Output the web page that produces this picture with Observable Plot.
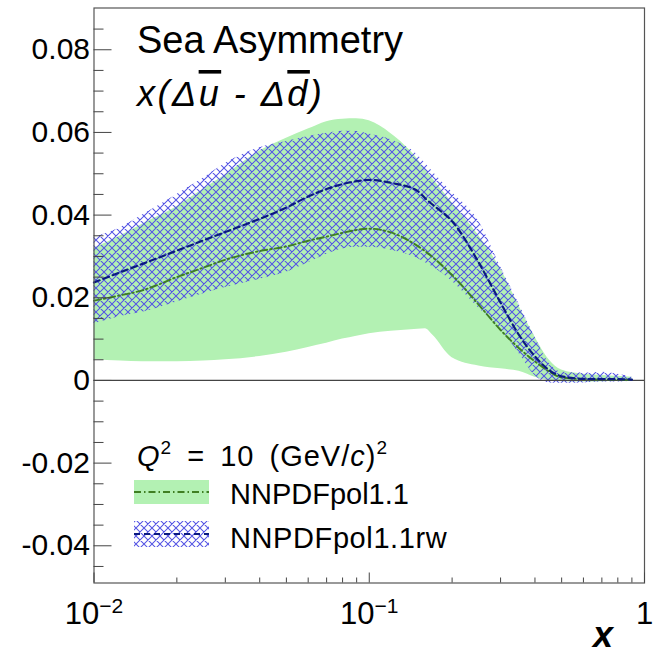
<!DOCTYPE html>
<html>
<head>
<meta charset="utf-8">
<script src="https://cdn.jsdelivr.net/npm/d3@7"></script>
<script src="https://cdn.jsdelivr.net/npm/@observablehq/plot@0.6"></script>
<style>
  html, body { margin: 0; padding: 0; background: #ffffff; }
  #chart { width: 653px; height: 658px; }
</style>
</head>
<body>
<div id="chart"></div>
<script>
// ---- data ----
const xGrid = [0.01, 0.0125, 0.015, 0.02, 0.025, 0.03, 0.04, 0.05, 0.06, 0.07, 0.08, 0.09, 0.1, 0.12, 0.15, 0.16, 0.17, 0.2, 0.25, 0.3, 0.35, 0.4, 0.45, 0.5, 0.6, 0.7, 0.8, 0.9];

// NNPDFpol1.1 (green band, dash-dot central line)
const nnpdfMid = [0.0193, 0.0206, 0.0218, 0.0250, 0.0273, 0.0292, 0.0313, 0.0324, 0.0338, 0.0348, 0.0357, 0.0364, 0.0367, 0.0358, 0.0325, 0.0312, 0.0298, 0.0255, 0.0183, 0.0122, 0.0078, 0.0046, 0.0022, 0.0007, 0.0003, 0.0002, 0.0002, 0.0001];
const nnpdfHi  = [0.0320, 0.0350, 0.0378, 0.0420, 0.0463, 0.0497, 0.0555, 0.0586, 0.0608, 0.0626, 0.0632, 0.0633, 0.0628, 0.0597, 0.0535, 0.0510, 0.0488, 0.0430, 0.0350, 0.0270, 0.0180, 0.0105, 0.0050, 0.0025, 0.0015, 0.0012, 0.0010, 0.0008];
const nnpdfLo  = [0.0050, 0.0047, 0.0045, 0.0045, 0.0047, 0.0050, 0.0058, 0.0068, 0.0080, 0.0090, 0.0100, 0.0107, 0.0113, 0.0119, 0.0124, 0.0125, 0.0110, 0.0055, 0.0035, 0.0028, 0.0022, 0.0008, 0.0000, -0.0003, -0.0004, -0.0003, -0.0002, -0.0001];

// NNPDFpol1.1rw (blue hatched band, dashed central line)
const rwMid = [0.0237, 0.0262, 0.0282, 0.0314, 0.0339, 0.0359, 0.0391, 0.0418, 0.0445, 0.0463, 0.0475, 0.0482, 0.0485, 0.0478, 0.0458, 0.0440, 0.0425, 0.0385, 0.0285, 0.0188, 0.0110, 0.0058, 0.0025, 0.0010, 0.0004, 0.0003, 0.0003, 0.0002];
const rwHi  = [0.0346, 0.0370, 0.0400, 0.0450, 0.0490, 0.0525, 0.0563, 0.0578, 0.0590, 0.0598, 0.0603, 0.0602, 0.0596, 0.0582, 0.0545, 0.0525, 0.0505, 0.0455, 0.0385, 0.0275, 0.0185, 0.0105, 0.0042, 0.0020, 0.0018, 0.0020, 0.0015, 0.0008];
const rwLo  = [0.0137, 0.0155, 0.0165, 0.0190, 0.0210, 0.0225, 0.0245, 0.0262, 0.0285, 0.0305, 0.0318, 0.0322, 0.0322, 0.0315, 0.0295, 0.0285, 0.0275, 0.0240, 0.0175, 0.0125, 0.0065, 0.0012, -0.0006, -0.0007, -0.0006, -0.0004, -0.0004, -0.0002];

// ticks
const yMajor = [-0.04, -0.02, 0, 0.02, 0.04, 0.06, 0.08];
const yTickLabels = ["-0.04", "-0.02", "0", "0.02", "0.04", "0.06", "0.08"];
const yMinor = [-0.045, -0.035, -0.03, -0.025, -0.015, -0.01, -0.005, 0.005, 0.01, 0.015, 0.025, 0.03, 0.035, 0.045, 0.05, 0.055, 0.065, 0.07, 0.075, 0.085];
const xMajor = [0.01, 0.1, 1];
const xTickLabels = ["10^\u22122", "10^\u22121", "1"];
const xMinor = [0.02, 0.03, 0.04, 0.05, 0.06, 0.07, 0.08, 0.09, 0.2, 0.3, 0.4, 0.5, 0.6, 0.7, 0.8, 0.9];

const seriesNames = ["NNPDFpol1.1", "NNPDFpol1.1rw"];

const rows = xGrid.map((x, i) => ({
  x,
  nMid: nnpdfMid[i], nHi: nnpdfHi[i], nLo: nnpdfLo[i],
  rMid: rwMid[i], rHi: rwHi[i], rLo: rwLo[i]
}));

// ---- styles ----
const FONT = "'Liberation Sans', Arial, Helvetica, sans-serif";
const GREEN_FILL = "#b3f1b3";
const GREEN_LINE = "#3f7f22";
const NAVY = "#0b1a80";
const HATCH = "#5454e4";
const GREEN_DASH = "7,3,1.5,3";
const NAVY_DASH = "6,4";

const plot = Plot.plot({
  width: 653,
  height: 658,
  marginLeft: 93.5,
  marginRight: 9,
  marginTop: 7.5,
  marginBottom: 75.5,
  style: { fontFamily: FONT, background: "#ffffff", color: "#000", overflow: "visible" },
  x: { type: "log", domain: [0.01, 1] },
  y: { domain: [-0.049, 0.0901] },
  marks: [
    Plot.areaY(rows, { x: "x", y1: "nLo", y2: "nHi", fill: GREEN_FILL, curve: "monotone-x" }),
    Plot.areaY(rows, { x: "x", y1: "rLo", y2: "rHi", fill: "url(#rwHatch)", curve: "monotone-x" }),
    Plot.ruleY([0], { stroke: "#444", strokeWidth: 1.2 }),
    Plot.line(rows, { x: "x", y: "nMid", stroke: GREEN_LINE, strokeWidth: 1.9, strokeDasharray: GREEN_DASH, curve: "monotone-x" }),
    Plot.line(rows, { x: "x", y: "rMid", stroke: NAVY, strokeWidth: 2.2, strokeDasharray: NAVY_DASH, curve: "monotone-x" }),
    Plot.frame({ stroke: "#555", strokeWidth: 1.2 }),
    Plot.axisY({ ticks: yMajor, tickSize: 18, insetLeft: 18, tickPadding: 4, fontSize: 30,
      tickFormat: d => yTickLabels[yMajor.indexOf(d)], label: null, stroke: "#444", fill: "#000" }),
    Plot.axisY({ ticks: yMinor, tickSize: 10, insetLeft: 10, fill: "none", label: null, stroke: "#444" }),
    Plot.axisX({ ticks: xMajor, tickSize: 10, insetBottom: 10, tickPadding: 19, fontSize: 31,
      tickFormat: d => xTickLabels[xMajor.indexOf(d)], label: null, stroke: "#444", fill: "#000" }),
    Plot.axisX({ ticks: xMinor, tickSize: 5, insetBottom: 5, fill: "none", label: null, stroke: "#444" })
  ]
});

const svg = d3.select(plot);

// hatch pattern for the reweighted band
const defs = svg.insert("defs", ":first-child");
const pat = defs.append("pattern")
  .attr("id", "rwHatch").attr("patternUnits", "userSpaceOnUse")
  .attr("width", 8).attr("height", 8);
pat.append("path").attr("d", "M0,0L8,8M8,0L0,8M-1,7L1,9M7,-1L9,1M-1,1L1,-1M7,9L9,7")
  .attr("stroke", HATCH).attr("stroke-width", 1.05).attr("fill", "none");

// x tick labels with superscripts
svg.selectAll('g[aria-label="x-axis tick label"] text').each(function () {
  const t = d3.select(this);
  const s = t.text();
  const parts = s.split("^");
  if (parts.length === 2) {
    t.text(parts[0]);
    t.append("tspan").attr("font-size", 21).attr("dy", -11).text(parts[1]);
  }
});

// annotations
const ann = svg.append("g").attr("font-family", FONT).attr("fill", "#000").attr("text-anchor", "start");
ann.append("text").attr("x", 137).attr("y", 53).attr("font-size", 38).text("Sea Asymmetry");

const sub = ann.append("text").attr("x", 137).attr("y", 106).attr("font-size", 36)
  .attr("font-style", "italic").attr("letter-spacing", 2.5);
sub.append("tspan").text("x(\u0394");
sub.append("tspan").attr("text-decoration", "overline").text("u");
sub.append("tspan").text(" - \u0394");
sub.append("tspan").attr("text-decoration", "overline").text("d");
sub.append("tspan").text(")");

const q = ann.append("text").attr("x", 137).attr("y", 466).attr("font-size", 29)
  .attr("word-spacing", 6).attr("letter-spacing", 1);
q.append("tspan").attr("font-style", "italic").text("Q");
q.append("tspan").attr("font-size", 19).attr("dy", -12).text("2");
q.append("tspan").attr("dy", 12).text(" = 10 (GeV/");
q.append("tspan").attr("font-style", "italic").text("c");
q.append("tspan").text(")");
q.append("tspan").attr("font-size", 19).attr("dy", -12).text("2");

// legend swatches
const lg = svg.append("g");
lg.append("rect").attr("x", 134).attr("y", 480).attr("width", 75).attr("height", 24).attr("fill", GREEN_FILL);
lg.append("line").attr("x1", 134).attr("x2", 209).attr("y1", 492).attr("y2", 492)
  .attr("stroke", GREEN_LINE).attr("stroke-width", 1.9).attr("stroke-dasharray", GREEN_DASH);
lg.append("rect").attr("x", 134).attr("y", 521).attr("width", 75).attr("height", 26).attr("fill", "url(#rwHatch)");
lg.append("line").attr("x1", 134).attr("x2", 209).attr("y1", 534).attr("y2", 534)
  .attr("stroke", NAVY).attr("stroke-width", 2.2).attr("stroke-dasharray", NAVY_DASH);
ann.append("text").attr("x", 230).attr("y", 504).attr("font-size", 29).text(seriesNames[0]);
ann.append("text").attr("x", 230).attr("y", 548).attr("font-size", 29).attr("letter-spacing", 0.6).text(seriesNames[1]);

// x axis title
ann.append("text").attr("x", 613).attr("y", 647).attr("text-anchor", "end")
  .attr("font-size", 36).attr("font-weight", "bold").attr("font-style", "italic").text("x");

document.getElementById("chart").appendChild(plot);
</script>
</body>
</html>
